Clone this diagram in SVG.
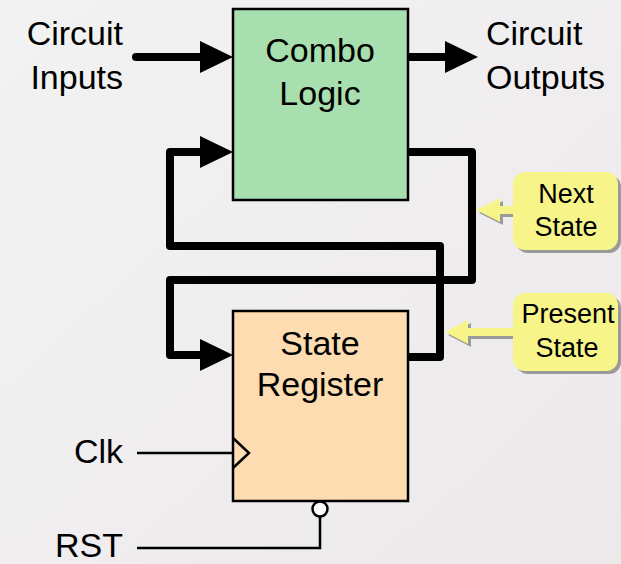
<svg xmlns="http://www.w3.org/2000/svg" width="621" height="564" viewBox="0 0 621 564">
<defs>
<linearGradient id="bg" x1="0" y1="0" x2="1" y2="1">
<stop offset="0" stop-color="#f3f2f3"/>
<stop offset="1" stop-color="#ece9eb"/>
</linearGradient>
<marker id="ah" markerUnits="userSpaceOnUse" markerWidth="34" markerHeight="34" refX="20" refY="16" orient="auto">
<path d="M0,0 L33,16 L0,32 Z" fill="#000"/>
</marker>
</defs>
<style>
text{font-family:"Liberation Sans",Arial,sans-serif;fill:#000}
.lbl{font-size:34px}
.big{font-size:34px;text-anchor:middle}
.cal{font-size:27px;text-anchor:middle}
.thick{fill:none;stroke:#000;stroke-width:8;stroke-linecap:round;stroke-linejoin:round}
.thin{fill:none;stroke:#000;stroke-width:2.5}
.box{stroke:#000;stroke-width:2.5}
.callout{fill:#f7f48a}
.shadow{fill:#9a9a9a}
</style>
<rect x="0" y="0" width="621" height="564" fill="url(#bg)"/>

<g id="connectors">
<path class="thick" d="M136,57 H220" marker-end="url(#ah)"/>
<path class="thick" d="M408,57 H465" marker-end="url(#ah)"/>
<path class="thick" d="M408,152 H472 V280 H170 V355 H220" marker-end="url(#ah)"/>
<path class="thick" d="M408,357 H440 V246 H170 V152 H220" marker-end="url(#ah)"/>
<path class="thin" d="M137,453 H233"/>
<path class="thin" d="M320,517 V548 H137"/>
</g>

<g id="combo-logic">
<rect class="box" x="233" y="9" width="175" height="191" fill="#a8dfaf"/>
<text class="big" x="320" y="62">Combo</text>
<text class="big" x="320" y="105">Logic</text>
</g>

<g id="state-register">
<rect class="box" x="233" y="311" width="175" height="190" fill="#fcdcb0"/>
<text class="big" x="320" y="355">State</text>
<text class="big" x="320" y="396">Register</text>
<path class="thin" d="M233,438 L249,453 L233,468"/>
<circle cx="320" cy="509" r="7.5" fill="#fff" stroke="#000" stroke-width="2.5"/>
</g>

<g id="circuit-inputs">
<text class="lbl" x="123" y="45" text-anchor="end">Circuit</text>
<text class="lbl" x="123" y="89" text-anchor="end">Inputs</text>
</g>

<g id="circuit-outputs">
<text class="lbl" x="486" y="45">Circuit</text>
<text class="lbl" x="486" y="89">Outputs</text>
</g>

<g id="clk">
<text class="lbl" x="123" y="463" text-anchor="end">Clk</text>
</g>

<g id="rst">
<text class="lbl" x="123" y="557" text-anchor="end">RST</text>
</g>

<g id="next-state">
<path class="shadow" d="M479,213 L503,201 L503,209 L516,209 L516,217 L503,217 L503,225 Z"/>
<rect class="shadow" x="516" y="175" width="105" height="78" rx="12"/>
<path class="callout" d="M476,210 L500,198 L500,206 L513,206 L513,214 L500,214 L500,222 Z"/>
<rect class="callout" x="513" y="172" width="105" height="78" rx="12"/>
<text class="cal" x="566" y="203">Next</text>
<text class="cal" x="566" y="236">State</text>
</g>

<g id="present-state">
<path class="shadow" d="M448,335 L471,323 L471,331 L516,331 L516,339 L471,339 L471,347 Z"/>
<rect class="shadow" x="516" y="296" width="105" height="78" rx="12"/>
<path class="callout" d="M445,332 L468,320 L468,328 L513,328 L513,336 L468,336 L468,344 Z"/>
<rect class="callout" x="513" y="293" width="105" height="78" rx="12"/>
<text class="cal" x="568" y="323">Present</text>
<text class="cal" x="567" y="357">State</text>
</g>
</svg>
